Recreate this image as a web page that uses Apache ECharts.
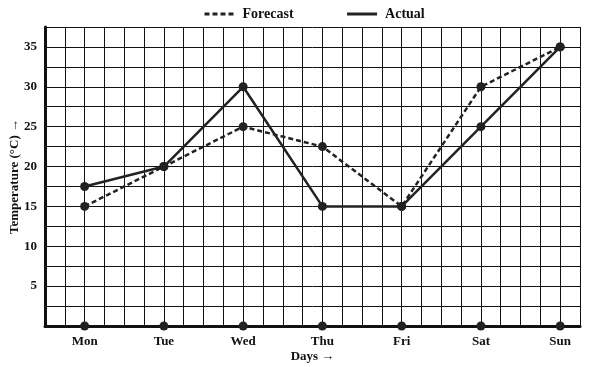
<!DOCTYPE html>
<html><head><meta charset="utf-8">
<script src="https://cdn.jsdelivr.net/npm/echarts@6/dist/echarts.min.js"></script>
<style>html,body{margin:0;padding:0;background:#fff}#c{width:591px;height:367px}</style>
</head><body><div id="c"></div>
<script>
var days = ['Mon','Tue','Wed','Thu','Fri','Sat','Sun'];
var forecast = [15, 20, 25, 22.5, 15, 30, 35];
var actual = [17.5, 20, 30, 15, 15, 25, 35];
var yTicks = [5, 10, 15, 20, 25, 30, 35];

var font = '"Liberation Serif", "Times New Roman", serif';
function pairs(arr){ return arr.map(function(v,i){ return [i, v]; }); }
var chart = echarts.init(document.getElementById('c'));
chart.setOption({
  animation: false,
  textStyle: {fontFamily: font},
  legend: {
    top: 2, left: 198,
    data: ['Forecast','Actual'],
    itemWidth: 30, itemGap: 52,
    itemStyle: {opacity: 0},
    lineStyle: {width: 3},
    textStyle: {fontFamily: font, fontWeight: 'bold', fontSize: 14, color: '#111', padding: [0, 0, 0, 3]}
  },
  grid: {left: 45, right: 11, top: 27, bottom: 41, outerBoundsMode: 'none', containLabel: false},
  xAxis: {
    type: 'value', min: -0.5, max: 6.25, interval: 0.25,
    name: 'Days →', nameLocation: 'middle', nameGap: 24, nameMoveOverlap: false,
    nameTextStyle: {fontFamily: font, fontWeight: 'bold', fontSize: 13, color: '#111'},
    axisLine: {show: true, onZero: false, lineStyle: {color: '#111', width: 3}},
    axisTick: {show: false},
    axisLabel: {
      fontFamily: font, fontWeight: 'bold', fontSize: 13, color: '#111', margin: 9,
      showMinLabel: false, showMaxLabel: false,
      formatter: function(v){ var i = Math.round(v); return (Math.abs(v - i) < 1e-6 && i >= 0 && i < days.length) ? days[i] : ''; }
    },
    splitLine: {show: true, lineStyle: {color: '#111', width: 1}}
  },
  yAxis: {
    type: 'value', min: 0, max: 37.5, interval: 2.5,
    name: 'Temperature (°C) →', nameLocation: 'middle', nameGap: 24, nameRotate: 90, nameMoveOverlap: false,
    nameTextStyle: {fontFamily: font, fontWeight: 'bold', fontSize: 13, color: '#111'},
    axisLine: {show: true, onZero: false, lineStyle: {color: '#111', width: 3}},
    axisTick: {show: false},
    axisLabel: {
      fontFamily: font, fontWeight: 'bold', fontSize: 13, color: '#111', margin: 8,
      formatter: function(v){ return yTicks.indexOf(v) >= 0 ? String(v) : ''; }
    },
    splitLine: {show: true, lineStyle: {color: '#111', width: 1}}
  },
  series: [
    {name: 'Forecast', type: 'line', data: pairs(forecast), symbol: 'none',
     lineStyle: {color: '#222', width: 2.5, type: [5, 3]}, itemStyle: {color: '#222'}, z: 3},
    {name: 'Actual', type: 'line', data: pairs(actual), symbol: 'none',
     lineStyle: {color: '#222', width: 2.5}, itemStyle: {color: '#222'}, z: 3},
    {name: 'fpts', type: 'scatter', data: pairs(forecast), symbolSize: 9, itemStyle: {color: '#222', opacity: 1}, z: 4},
    {name: 'apts', type: 'scatter', data: pairs(actual), symbolSize: 9, itemStyle: {color: '#222', opacity: 1}, z: 4},
    {name: 'axis', type: 'scatter', data: days.map(function(d,i){ return [i, 0]; }), symbolSize: 9, itemStyle: {color: '#222', opacity: 1}, z: 5}
  ]
});
</script></body></html>
